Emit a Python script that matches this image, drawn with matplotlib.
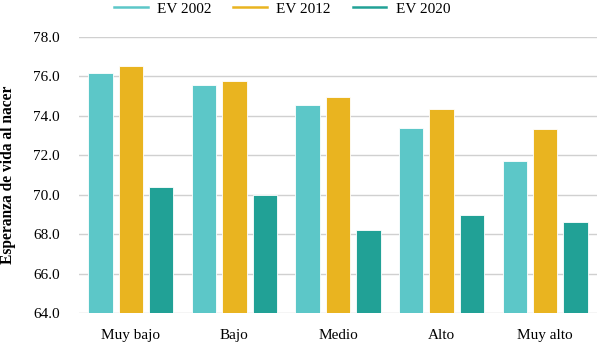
import matplotlib
matplotlib.use("Agg")
import matplotlib.pyplot as plt
import numpy as np

categories = ["Muy bajo", "Bajo", "Medio", "Alto", "Muy alto"]
ev2002 = [76.2, 75.55, 74.57, 73.4, 71.72]
ev2012 = [76.55, 75.78, 74.98, 74.37, 73.35]
ev2020 = [70.4, 69.99, 68.2, 68.97, 68.62]
series_names = ["EV 2002", "EV 2012", "EV 2020"]
colors = ["#5CC7C8", "#E9B420", "#21A196"]
yticks = [64, 66, 68, 70, 72, 74, 76, 78]

plt.rcParams['font.family'] = ['Liberation Serif', 'DejaVu Serif']

fig = plt.figure(figsize=(5.99, 3.43), dpi=100)
ax = fig.add_axes([79/599, 1-313.3/343, (597-79)/599, (313.3-37)/343])

x = np.arange(len(categories))
w = 0.236
off = 0.293
handles = []
for i, (vals, name, c) in enumerate(zip([ev2002, ev2012, ev2020], series_names, colors)):
    ax.bar(x + (i-1)*off, np.array(vals)-64, bottom=64, width=w, color=c, zorder=3,
           edgecolor='white', linewidth=0.6)
    h, = ax.plot([], [], color=c, lw=1.8, label=name)
    handles.append(h)

ax.set_xlim(-0.5, len(categories)-0.5)
ax.set_ylim(64, 78)
ax.set_yticks(yticks)
ax.set_yticklabels([f"{v:.1f}" for v in yticks], fontsize=11)
ax.set_xticks(x)
ax.set_xticklabels(categories, fontsize=11)
ax.tick_params(axis='x', length=0, pad=11)
ax.tick_params(axis='y', length=0, pad=14)
ax.grid(axis='y', color='#D0D0D0', lw=1, zorder=0)
for s in ax.spines.values():
    s.set_visible(False)
ax.set_ylabel("Esperanza de vida al nacer", fontsize=11.2, fontweight='bold', labelpad=12)

fig.legend(handles=handles, loc='upper center', bbox_to_anchor=(282/599, 1.012), ncol=3,
           frameon=False, fontsize=11, handlelength=2.2, handletextpad=0.6,
           columnspacing=1.45, borderaxespad=0)

fig.savefig("out.png", dpi=100)
